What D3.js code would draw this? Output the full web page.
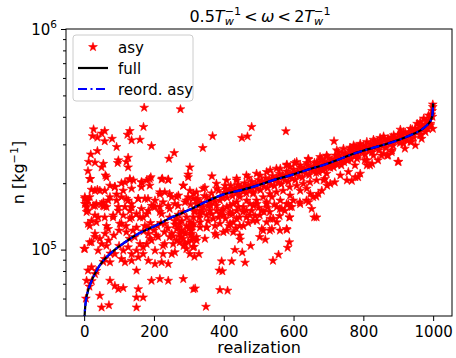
<!DOCTYPE html>
<html>
<head>
<meta charset="utf-8">
<script src="https://cdn.jsdelivr.net/npm/d3@7"></script>
<style>
  body { margin: 0; background: #fff; }
  text { font-family: "DejaVu Sans", sans-serif; fill: #000; }
</style>
</head>
<body>
<svg id="chart" width="456" height="358"></svg>
<script>
// ---- data ----
// sorted "full" curve and the re-ordered asymptotic curve (n in kg^-1)
var curveRealization = [0, 3, 6, 11, 18, 26, 35, 45, 57, 69, 88, 117, 155, 203, 251, 308, 350, 399, 450, 495, 540, 590, 640, 696, 740, 772, 820, 868, 910, 944, 965, 982, 990, 995, 998, 1000];
var nFull  = [46000, 55000, 60000, 65000, 70000, 75000, 80000, 85000, 90000, 94000, 100000, 108000, 118000, 128000, 140000, 153000, 165000, 178000, 186000, 195000, 206000, 217000, 230000, 245000, 260000, 272000, 287000, 302000, 318000, 335000, 348000, 366000, 378000, 392000, 410000, 460000];
var nReord = [46000, 55000, 60000, 65000, 70000, 75000, 80000, 85000, 90000, 94000, 100000, 108000, 118000, 128000, 140000, 153000, 165000, 178000, 186000, 195000, 206000, 217000, 230000, 245000, 260000, 272000, 287000, 302000, 318000, 335000, 348000, 366000, 378000, 392000, 410000, 460000];

// asy stars, widely spread part (realization, n in 1e3 kg^-1)
var spreadX = [172, 276, 27, 59, 50, 24, 38, 124, 131, 170, 80, 59, 136, 160, 93, 193, 38, 19, 258, 243, 13, 31, 98, 96, 121, 126, 55, 50, 11, 18, 61, 126, 303, 298, 21, 38, 74, 88, 107, 117, 131, 141, 165, 179, 191, 224, 241, 284, 313, 2, 11, 55, 69, 93, 107, 121, 155, 174, 198, 217, 231, 251, 270, 298, 136, 57, 7, 35,
  2, 11, 31, 50, 64, 21, 11, 40, 83, 98, 117, 136, 150, 169, 184, 203, 222, 241, 260, 289, 69, 107, 131, 174, 231, 260, 279, 294, 308, 251, 212, 184, 31, 50, 16, 0, 121, 145, 160, 193, 231, 275, 289, 308, 203, 251, 169, 59, 74, 88, 107, 117, 136, 155, 184, 203, 222, 241, 11, 21, 31, 7, 74, 88, 98, 112, 150, 155, 193, 217, 241, 284, 45, 150, 169, 50, 150, 313, 71,
  480, 368, 452, 468, 578, 340, 366, 581, 603, 643, 695,
  659, 588, 581, 588, 583, 557, 541, 519, 477, 447, 432, 453, 461, 423, 394, 387, 396, 316, 329, 318, 389, 411, 349, 375, 346, 322, 351, 399, 418,
  437, 456, 475, 495, 509, 533, 538, 552, 566, 585, 595, 619, 643, 509, 523, 485, 442, 418, 399, 380, 361, 332, 313, 308, 332,
  716, 906, 973, 999, 949, 901, 868];
var spreadN = [440, 433, 351, 345, 336, 327, 322, 332, 345, 360, 318, 310, 313, 315, 292, 295, 280, 270, 274, 258, 250, 248, 254, 247, 250, 261, 245, 236, 227, 209, 217, 236, 236, 219, 187, 187, 195, 193, 200, 202, 207, 206, 202, 206, 213, 210, 207, 195, 179, 173, 167, 164, 167, 178, 173, 170, 170, 170, 157, 178, 182, 173, 176, 173, 155, 157, 156, 161,
  161, 150, 158, 161, 156, 135, 131, 140, 143, 150, 156, 161, 145, 140, 150, 156, 145, 158, 161, 164, 124, 131, 138, 128, 131, 135, 122, 140, 126, 118, 114, 118, 118, 106, 108, 101, 120, 114, 106, 110, 106, 114, 106, 110, 99, 95.5, 102.5, 90.7, 87.6, 95.5, 90.7, 87.6, 89.1, 92.3, 89.1, 86.1, 87.6, 86.1, 80.4, 83.2, 77.5, 72.3, 72.3, 68.5, 66.2, 67, 80.4, 66.2, 72.3, 73.6, 72.3, 73.6, 61.8, 60.7, 60.7, 54.7, 54.7, 66.2, 56,
  360, 327, 321, 326, 344, 289, 215, 243, 247, 256, 265,
  140, 140, 123, 108, 102, 94.9, 89.1, 111, 104, 111, 99.7, 97.2, 87.3, 88.5, 88.5, 80.4, 79.8, 92.9, 95.5, 66.7, 65.6, 65.2, 55.1, 118, 112, 110, 126, 120, 131,
  138, 128, 143, 135, 124, 138, 124, 133, 153, 161, 156, 161, 164, 150, 161, 158, 156, 148, 143, 150, 158, 145, 131, 118, 126,
  310, 350, 393, 353, 297, 250, 267];

// asy stars in the crowded middle of the cloud (realization, n in 1e3 kg^-1)
var denseX = [16, 64, 131, 164, 188, 222, 241, 298, 31, 45, 59, 88, 112, 136, 164, 188, 217, 245, 284, 303,
  2, 16, 74, 93, 126, 155, 183, 203, 226, 265, 293, 312, 7, 26, 54, 98, 131, 164, 193, 217, 245, 269, 284,
  7, 31, 59, 83, 112, 136, 160, 179, 217, 245, 16, 35, 64, 102,
  31, 45, 21, 2, 64, 40, 126, 150, 179, 188, 207, 226, 245, 265, 284, 303, 312, 274, 293, 260, 226, 169, 136, 112,
  265, 274, 293, 307, 284, 298, 274, 255, 312, 303,
  341, 379, 408, 437, 465, 494, 523, 551, 580, 609, 642, 666,
  322, 341, 360, 379, 398, 418, 437, 456, 475, 494, 513, 532, 551, 570, 589, 609, 628, 647, 666,
  313, 332, 351, 370, 389, 408, 427, 446, 465, 484, 503, 523, 542, 532, 561, 580, 599, 618, 637, 656, 671, 561, 580, 589, 427, 446, 379, 322, 503, 513, 532, 666, 652,
  317, 351, 389, 418, 360, 398, 446, 484, 427, 465,
  776, 819, 852, 881, 757, 785, 718, 690, 737, 671, 776, 804, 842, 871, 919, 938, 967, 757, 699, 728,
  680, 728, 785, 833, 871, 909, 948, 986,
  260, 270, 280, 290, 300, 310, 255, 265, 285, 305, 315, 240, 230, 210, 200, 190, 180, 150, 140, 120, 100, 85, 70, 60,
  330, 340, 355, 365, 375, 385, 395, 405, 415, 425, 435, 445, 455, 470, 480, 490, 500, 515, 525, 545, 560, 575];
var denseN = [209, 213, 209, 202, 209, 208, 208, 213, 185, 185, 185, 192, 185, 189, 192, 195, 182, 179, 195, 185,
  170, 173, 173, 167, 167, 170, 170, 167, 164, 173, 167, 170, 161, 158, 158, 156, 150, 153, 158, 156, 153, 158, 148,
  148, 143, 140, 140, 143, 140, 140, 145, 148, 140, 128, 133, 128, 131,
  114, 112, 108, 100.7, 104, 99, 102.5, 99, 106, 112, 116, 104, 114, 124, 120, 133, 112, 108, 100.7, 97.3, 95.5, 95.5, 95.5, 99,
  138, 131, 128, 122, 112, 108, 118, 106, 102.5, 95.5,
  189, 199, 206, 210, 217, 221, 225, 233, 241, 250, 258, 245,
  161, 156, 150, 158, 153, 145, 150, 156, 161, 167, 173, 179, 182, 185, 192, 195, 199, 202, 206,
  140, 133, 126, 138, 131, 122, 133, 128, 140, 135, 143, 133, 138, 148, 153, 161, 167, 164, 167, 173, 179, 122, 124, 140, 120, 116, 116, 114, 114, 122, 122, 140, 153,
  148, 143, 145, 158, 167, 173, 173, 179, 161, 150,
  292, 241, 267, 277, 225, 213, 202, 209, 241, 225, 241, 254, 254, 267, 287, 308, 318, 254, 237, 258,
  258, 277, 292, 308, 318, 336, 353, 385,
  130, 126, 135, 118, 124, 128, 115, 110, 104, 116, 103, 125, 120, 128, 122, 132, 126, 126, 122, 128, 122, 116, 110, 118,
  140, 148, 135, 145, 128, 140, 150, 138, 128, 145, 125, 140, 148, 132, 150, 142, 155, 148, 155, 160, 142, 150];

// asy stars, close to the sorted curve (realization, n in 1e3 kg^-1)
var bandX = [5, 15, 22, 35, 55, 75, 100, 130, 170, 220, 270, 330, 370,
  305, 315, 325, 335, 345, 355, 365, 375, 385, 395,
  322, 346, 380, 404, 437, 471, 504, 533, 562, 590, 619, 638, 667, 686, 672,
  332, 361, 389, 409, 437, 466, 495, 523, 538, 562, 590, 619, 638, 648, 665, 681, 696, 590, 552, 322, 351,
  676, 695, 724, 743, 762, 772, 791, 810, 829, 848, 858, 887, 915, 935, 954, 963, 987, 999,
  686, 705, 724, 753, 782, 810, 829, 858, 882, 915, 935, 963, 978, 992, 998,
  899, 686, 705, 734, 753, 767, 777, 791, 810, 825, 715, 695,
  405, 410, 415, 420, 425, 430, 435, 440, 445, 450, 455, 460, 465, 470, 475, 480, 485, 490, 495, 500, 505, 510, 515, 520, 525, 530, 535, 540, 545, 550, 555, 560, 565, 570, 575, 580, 585, 590, 595, 600,
  605, 610, 615, 620, 625, 630, 635, 640, 645, 650, 655, 660, 665, 670, 675, 680, 685, 690, 695, 700, 705, 710, 715, 720, 725, 730, 735, 740, 745, 750, 755, 760, 765, 770, 775, 780, 785, 790, 795, 800,
  805, 810, 815, 820, 825, 830, 835, 840, 845, 850, 855, 860, 865, 870, 875, 880, 885, 890, 895, 900, 905, 910, 915, 920, 925, 930, 935, 940, 945, 950, 955, 960, 965, 970, 975, 980, 985, 988, 992, 995, 997, 999,
  402, 418, 433, 447, 462, 478, 492, 508, 522, 538, 553, 568, 583, 598, 612, 628, 642, 658, 672, 688, 702, 718, 732, 748, 762, 778, 792, 808, 822, 838, 852, 868, 882, 898, 912, 928, 942, 958, 972, 985];
var bandN = [60, 68, 72, 80, 88, 96, 104, 112, 121, 132, 144, 159, 170,
  160, 150, 170, 163, 175, 158, 180, 165, 185, 172,
  182, 191, 189, 195, 206, 212, 217, 229, 233, 237, 241, 247, 249, 237, 225,
  150, 161, 167, 156, 164, 167, 161, 164, 173, 167, 176, 185, 189, 179, 174, 185, 195, 156, 156, 167, 173,
  263, 267, 282, 287, 290, 297, 302, 308, 315, 321, 326, 330, 341, 353, 372, 379, 406, 443,
  237, 241, 245, 254, 258, 254, 267, 272, 282, 302, 308, 330, 341, 366, 400,
  250, 206, 199, 217, 206, 205, 213, 221, 241, 245, 236, 221,
  188, 172, 184, 195, 175, 189, 180, 197, 178, 192, 183, 200, 180, 195, 186, 203, 182, 198, 189, 207, 186, 202, 193, 211, 190, 207, 197, 216, 194, 211, 201, 221, 198, 215, 206, 226, 203, 220, 210, 231,
  207, 225, 215, 236, 212, 230, 221, 242, 218, 236, 227, 248, 223, 242, 233, 254, 229, 248, 239, 260, 235, 255, 246, 267, 242, 263, 253, 275, 249, 271, 261, 283, 257, 279, 268, 290, 264, 285, 275, 296,
  270, 292, 281, 302, 276, 298, 287, 309, 282, 305, 294, 316, 289, 312, 301, 323, 296, 320, 309, 332, 304, 328, 318, 340, 312, 338, 328, 351, 322, 350, 340, 365, 334, 363, 355, 381, 352, 385, 372, 410, 425, 455,
  181, 185, 186, 190, 191, 195, 196, 201, 203, 208, 210, 214, 217, 222, 224, 229, 232, 236, 240, 245, 249, 254, 259, 266, 270, 276, 280, 285, 289, 295, 299, 305, 309, 316, 321, 329, 336, 347, 357, 370];

var xTicks = [0, 200, 400, 600, 800, 1000];
var yMajor = [1e5, 1e6];
var yMinor = [6e4, 7e4, 8e4, 9e4, 2e5, 3e5, 4e5, 5e5, 6e5, 7e5, 8e5, 9e5];
var legendLabels = ["asy", "full", "reord. asy"];

// ---- layout ----
var svg = d3.select("#chart");
var mLeft = 66, mRight = 452, mTop = 29, mBottom = 316;
var fs = 15;

var x = d3.scaleLinear().domain([-52, 1054]).range([mLeft, mRight]);
var y = d3.scaleLog().domain([5e4, 1e6]).range([mBottom, mTop]);

svg.append("defs").append("clipPath").attr("id", "plotclip")
  .append("rect").attr("x", mLeft).attr("y", mTop)
  .attr("width", mRight - mLeft).attr("height", mBottom - mTop);

var plot = svg.append("g").attr("clip-path", "url(#plotclip)");

var star = d3.symbol().type(d3.symbolStar).size(24);

function drawStars(xs, ns) {
  plot.append("g").selectAll("path")
    .data(xs.map(function (d, i) { return [d, ns[i] * 1000]; }))
    .enter().append("path")
    .attr("d", star)
    .attr("transform", function (d) { return "translate(" + x(d[0]) + "," + y(d[1]) + ")"; })
    .attr("fill", "#ff0000")
    .attr("stroke", "#ff0000")
    .attr("stroke-width", 0.6);
}
drawStars(spreadX, spreadN);
drawStars(denseX, denseN);
drawStars(bandX, bandN);

var line = d3.line()
  .x(function (d) { return x(d[0]); })
  .y(function (d) { return y(d[1]); })
  .curve(d3.curveMonotoneX);

plot.append("path")
  .datum(curveRealization.map(function (d, i) { return [d, nFull[i]]; }))
  .attr("d", line).attr("fill", "none")
  .attr("stroke", "#000").attr("stroke-width", 2.2);

plot.append("path")
  .datum(curveRealization.map(function (d, i) { return [d, nReord[i]]; }))
  .attr("d", line).attr("fill", "none")
  .attr("stroke", "#0000ff").attr("stroke-width", 2.2)
  .attr("stroke-dasharray", "9,3.5,2,3.5");

// ---- axes ----
var xAxis = svg.append("g")
  .attr("transform", "translate(0," + mBottom + ")")
  .call(d3.axisBottom(x).tickValues(xTicks).tickSize(5).tickPadding(5).tickFormat(d3.format("d")));
xAxis.select(".domain").remove();
xAxis.selectAll("text").style("font-size", fs + "px");

var yAxisMinor = svg.append("g")
  .attr("transform", "translate(" + mLeft + ",0)")
  .call(d3.axisLeft(y).tickValues(yMinor).tickSize(3).tickFormat(""));
yAxisMinor.select(".domain").remove();

var yAxisMajor = svg.append("g")
  .attr("transform", "translate(" + mLeft + ",0)")
  .call(d3.axisLeft(y).tickValues(yMajor).tickSize(5).tickFormat(""));
yAxisMajor.select(".domain").remove();

yMajor.forEach(function (v) {
  var t = svg.append("text")
    .attr("x", 57).attr("y", y(v) + 5.5)
    .attr("text-anchor", "end")
    .style("font-size", fs + "px");
  t.append("tspan").text("10");
  t.append("tspan").text(Math.round(Math.log10(v)))
    .attr("dy", -6.5).style("font-size", (fs * 0.7) + "px");
});

svg.append("rect")
  .attr("x", mLeft).attr("y", mTop)
  .attr("width", mRight - mLeft).attr("height", mBottom - mTop)
  .attr("fill", "none").attr("stroke", "#000").attr("stroke-width", 1);

// rich text: runs laid out left to right, sup/sub stacked like mathtext
function richText(parent, runs, cx, baseY, size) {
  var t = parent.append("text").style("font-size", size + "px");
  var pos = 0, prevStart = 0, prevW = 0, spans = [];
  runs.forEach(function (r) {
    var sz = r.small ? size * 0.7 : size;
    var s = t.append("tspan").text(r.t)
      .style("font-size", sz + "px")
      .style("font-style", r.i ? "italic" : null)
      .attr("y", baseY + (r.shift || 0));
    var w = s.node().getComputedTextLength();
    var start;
    if (r.stack) {
      start = prevStart;
      pos = prevStart + Math.max(prevW, w);
    } else {
      start = pos;
      pos += w;
    }
    spans.push([s, start]);
    prevStart = start; prevW = w;
  });
  spans.forEach(function (p) { p[0].attr("x", cx - pos / 2 + p[1]); });
  return t;
}

richText(svg, [
  { t: "0.5" }, { t: "T", i: 1 },
  { t: "\u22121", small: 1, shift: -6.5 }, { t: "w", i: 1, small: 1, shift: 3.8, stack: 1 },
  { t: "\u2009<\u2009" }, { t: "\u03c9", i: 1 }, { t: "\u2009<\u20092" }, { t: "T", i: 1 },
  { t: "\u22121", small: 1, shift: -6.5 }, { t: "w", i: 1, small: 1, shift: 3.8, stack: 1 }
], 260, 21.5, 16);

svg.append("text")
  .attr("x", (mLeft + mRight) / 2).attr("y", 353)
  .attr("text-anchor", "middle")
  .style("font-size", "16px")
  .text("realization");

var ylab = svg.append("g").attr("transform", "translate(24," + ((mTop + mBottom) / 2) + ") rotate(-90)");
richText(ylab, [{ t: "n [kg" }, { t: "\u22121", small: 1, shift: -6.5 }, { t: "]" }], 0, 0, 16);

// ---- legend ----
var lg = svg.append("g");
lg.append("rect")
  .attr("x", 73).attr("y", 35).attr("width", 120).attr("height", 66).attr("rx", 3)
  .attr("fill", "#fff").attr("fill-opacity", 0.8)
  .attr("stroke", "#cccccc").attr("stroke-width", 1);
var rows = [47, 68, 89];
lg.append("path").attr("d", star)
  .attr("transform", "translate(93," + rows[0] + ")")
  .attr("fill", "#ff0000").attr("stroke", "#ff0000").attr("stroke-width", 0.6);
lg.append("line").attr("x1", 78).attr("x2", 108).attr("y1", rows[1]).attr("y2", rows[1])
  .attr("stroke", "#000").attr("stroke-width", 2.2);
lg.append("line").attr("x1", 78).attr("x2", 108).attr("y1", rows[2]).attr("y2", rows[2])
  .attr("stroke", "#0000ff").attr("stroke-width", 2.2).attr("stroke-dasharray", "9,3.5,2,3.5");
legendLabels.forEach(function (l, i) {
  lg.append("text").attr("x", 118).attr("y", rows[i] + 5.5)
    .style("font-size", fs + "px").text(l);
});
</script>
</body>
</html>
